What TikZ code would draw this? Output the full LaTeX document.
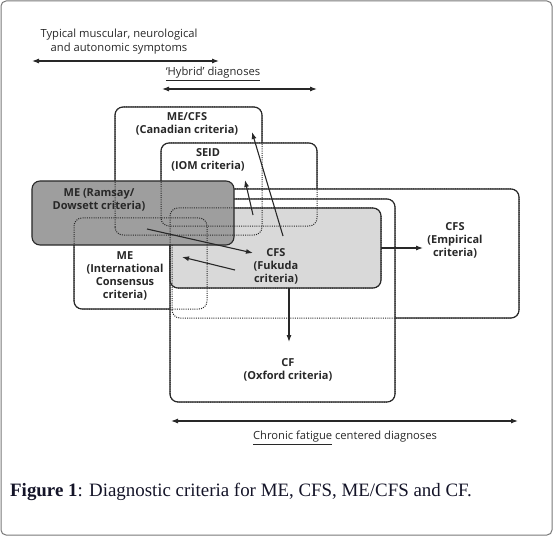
\documentclass[tikz,border=0pt]{standalone}
\usepackage{fontspec}
\setmainfont{Open Sans}
\newfontfamily\capfont{Liberation Serif}
\usetikzlibrary{arrows.meta}
\definecolor{ln}{RGB}{40,40,40}
\definecolor{darkfill}{RGB}{158,158,158}
\definecolor{lightfill}{RGB}{217,217,217}
\definecolor{framec}{RGB}{120,120,120}
\definecolor{capc}{RGB}{20,20,40}
\tikzset{
  crit/.style={draw=ln, line width=1.1bp, rounded corners=8bp, fill=white, inner sep=0pt, outer sep=0pt},
  hid/.style={draw=ln, line width=1bp, dash pattern=on 1bp off 1.2bp, rounded corners=8bp},
  lbl/.style={font=\fontsize{11bp}{13bp}\selectfont\bfseries, align=center, text=ln, inner sep=0pt},
  toplbl/.style={font=\fontsize{11.2bp}{14bp}\selectfont, align=center, text=ln, inner sep=0pt},
  arr/.style={draw=ln, line width=1.1bp, -{Latex[length=7bp,width=5bp]}},
  darr/.style={draw=ln, line width=1.1bp, {Latex[length=7bp,width=5bp]}-{Latex[length=7bp,width=5bp]}},
}
\begin{document}
\begin{tikzpicture}[x=1bp,y=-1bp]
\useasboundingbox (0,0) rectangle (554,536);
\draw[framec, line width=1bp, rounded corners=5bp] (1,1) rectangle (552,535);

% boxes back to front
\node[crit, minimum width=147bp, minimum height=128bp] (mecfs) at (188.5,171) {};
\node[crit, minimum width=156bp, minimum height=83bp] (seid) at (239,184.5) {};
\node[crit, minimum width=133bp, minimum height=91bp] (meic) at (140.5,263.5) {};
\node[crit, minimum width=347bp, minimum height=129bp] (emp) at (345.5,253.5) {};
\node[crit, minimum width=225bp, minimum height=203bp] (oxf) at (282.5,300.5) {};
\node[crit, fill=lightfill, minimum width=211bp, minimum height=80bp] (fuk) at (275.5,248) {};
% hidden outlines of the large boxes (covered by the dark box)
\foreach \n in {emp,oxf}
  \draw[hid] (\n.south west) rectangle (\n.north east);
\node[crit, fill=darkfill, minimum width=202bp, minimum height=64bp] (ram) at (133,213) {};

% hidden outlines
\foreach \n in {mecfs,seid,meic,fuk}
  \draw[hid] (\n.south west) rectangle (\n.north east);

% labels
\node[lbl] (mecfsL) at (187,123.5) {ME/CFS\\(Canadian criteria)};
\node[lbl] (seidL) at (208,159.5) {SEID\\(IOM criteria)};
\node[lbl] (ramL) at (99,200) {ME (Ramsay/\\Dowsett criteria)};
\node[lbl] (meicL) at (125,276) {ME\\(International\\Consensus\\criteria)};
\node[lbl] (fukL) at (276,266.5) {CFS\\(Fukuda\\criteria)};
\node[lbl] (empL) at (455,240.5) {CFS\\(Empirical\\criteria)};
\node[lbl] (oxfL) at (288,370) {CF\\(Oxford criteria)};

% arrows
\coordinate (a1) at (147,229); \coordinate (b1) at (253,253);
\coordinate (a2) at (235,270); \coordinate (b2) at (182,257);
\coordinate (a3) at (253,215); \coordinate (b3) at (245,180);
\coordinate (a4) at (283,236); \coordinate (b4) at (252,132);
\coordinate (empin) at (423,248);
\coordinate (oxfin) at (289,342);
\draw[arr] (a1) -- (b1);
\draw[arr] (a2) -- (b2);
\draw[arr] (a3) -- (b3);
\draw[arr] (a4) -- (b4);
\draw[arr] (fuk.east) -- (empin);
\draw[arr] (oxfin |- fuk.south) -- (oxfin);

% top and bottom range labels
\node[toplbl] (sympL) at (119,42) {Typical muscular, neurological\\and autonomic symptoms};
\coordinate (s1) at (32,61); \coordinate (s2) at (219,61);
\draw[darr] (s1) -- (s2);
\node[toplbl] (hybL) at (213,74) {\underline{‘Hybrid’ diagnoses}};
\coordinate (h1) at (162,89); \coordinate (h2) at (317,89);
\draw[darr] (h1) -- (h2);
\coordinate (c1) at (171,421); \coordinate (c2) at (518,421);
\draw[darr] (c1) -- (c2);
\node[toplbl] (chrL) at (345,438) {\underline{Chronic fatigue} centered diagnoses};

% caption
\node[anchor=west, font=\capfont\fontsize{18.9bp}{21bp}\selectfont, text=capc, inner sep=0pt] (cap) at (10,492) {\textbf{Figure 1}: Diagnostic criteria for ME, CFS, ME/CFS and CF.};
\end{tikzpicture}
\end{document}
